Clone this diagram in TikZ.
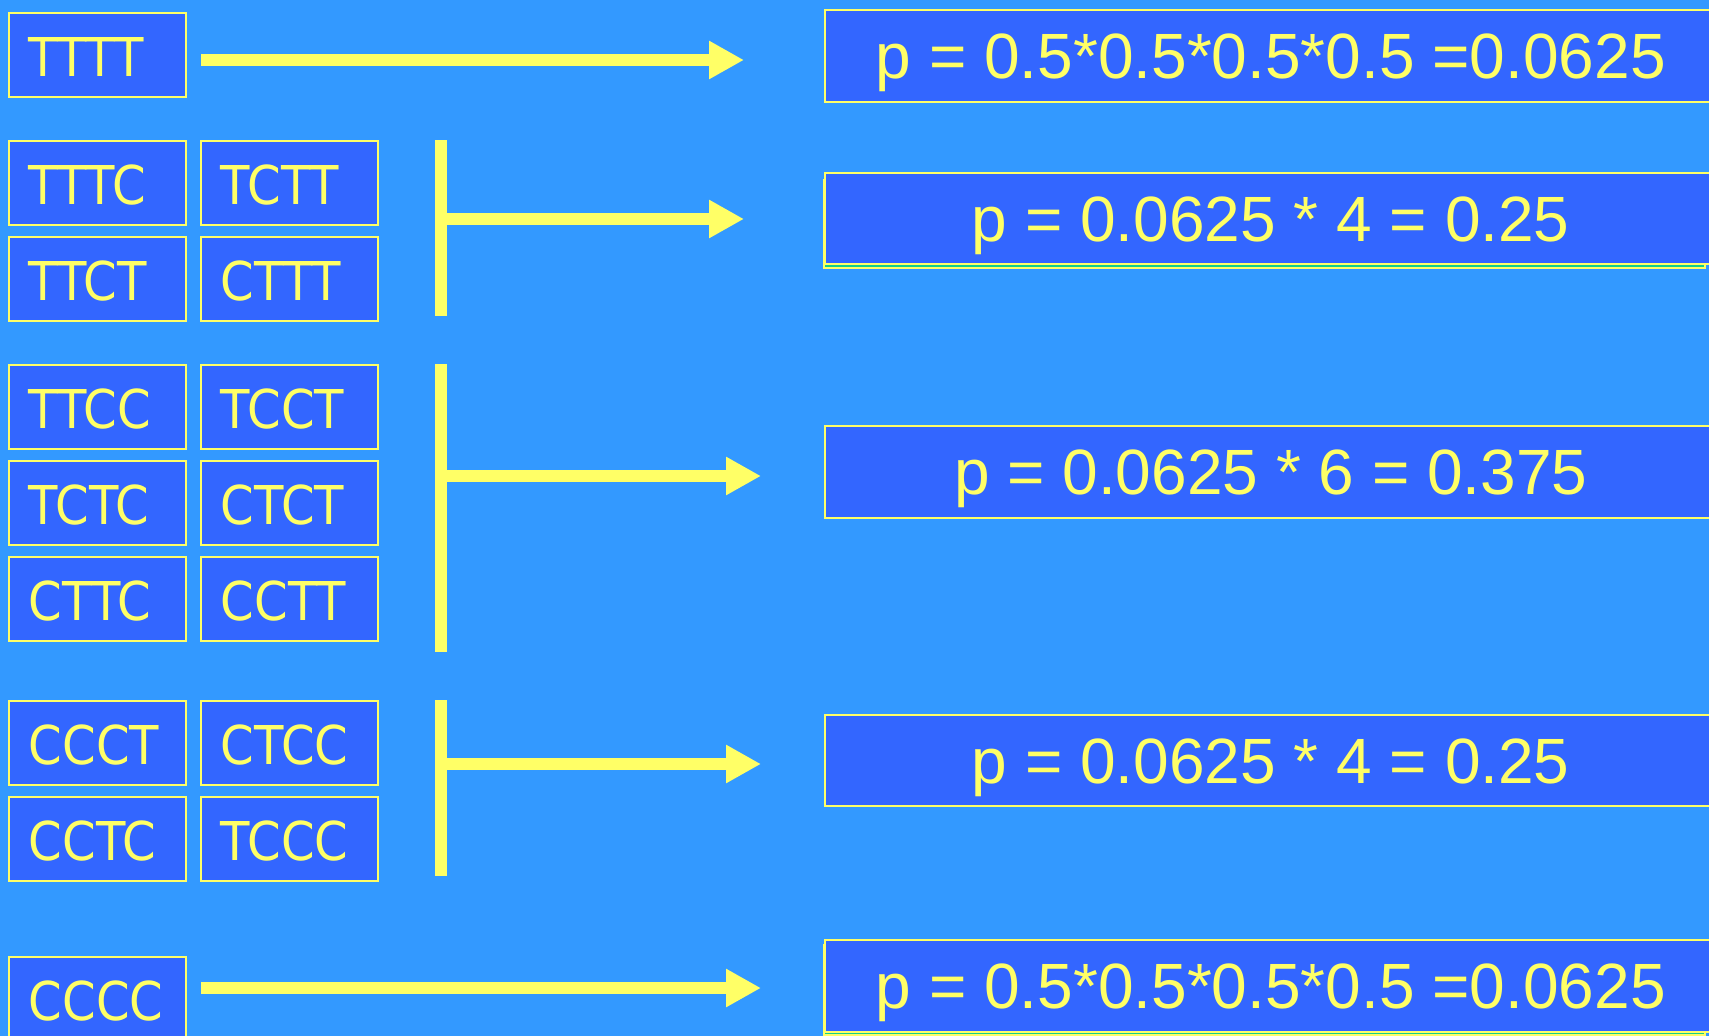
\documentclass[tikz,border=0pt]{standalone}
\usepackage{fontspec}
\setmainfont{Liberation Sans}
\newfontfamily\boxfont[FakeStretch=0.9]{DejaVu Sans}
\usetikzlibrary{arrows.meta}
\definecolor{bg}{RGB}{51,153,255}
\definecolor{boxblue}{RGB}{51,102,255}
\definecolor{ylw}{RGB}{255,255,102}
\definecolor{grn}{RGB}{20,208,136}
\begin{document}
\begin{tikzpicture}[x=1pt,y=-1pt,
  seq/.style={draw=ylw, line width=1.6pt, fill=boxblue, text=ylw, anchor=north west,
    minimum height=84pt, inner xsep=20pt, inner ysep=0pt, text width=137pt, align=left,
    font=\boxfont\fontsize{53.5}{60}\selectfont, text height=44pt, text depth=0pt},
  prob/.style={draw=ylw, line width=1.6pt, fill=boxblue, text=ylw, anchor=north west,
    minimum width=892pt, minimum height=92pt, inner sep=0pt,
    font=\fontsize{64}{72}\selectfont, text height=46pt, text depth=0pt},
  shadowbox/.style={draw=ylw, line width=1.6pt, fill=grn},
  shaft/.style={draw=ylw, line width=12pt},
  arr/.style={shaft, -{Triangle[length=35pt,width=36pt]}},
]
\useasboundingbox (0,0) rectangle (1709,1036);
\clip (0,0) rectangle (1709,1036);
\fill[bg] (0,0) rectangle (1709,1036);

% left sequence boxes
\node[seq] (tttt) at (8,12) {TTTT};
\node[seq] (tttc) at (8,140) {TTTC};
\node[seq] (tctt) at (200,140) {TCTT};
\node[seq] (ttct) at (8,236) {TTCT};
\node[seq] (cttt) at (200,236) {CTTT};
\node[seq] (ttcc) at (8,364) {TTCC};
\node[seq] (tcct) at (200,364) {TCCT};
\node[seq] (tctc) at (8,460) {TCTC};
\node[seq] (ctct) at (200,460) {CTCT};
\node[seq] (cttc) at (8,556) {CTTC};
\node[seq] (cctt) at (200,556) {CCTT};
\node[seq] (ccct) at (8,700) {CCCT};
\node[seq] (ctcc) at (200,700) {CTCC};
\node[seq] (cctc) at (8,796) {CCTC};
\node[seq] (tccc) at (200,796) {TCCC};
\node[seq] (cccc) at (8,956) {CCCC};

% right probability boxes
\draw[shadowbox] (824,180) rectangle (1705,268);
\draw[shadowbox] (824,945) rectangle (1705,1035);
\node[prob] (p1) at (824,9) {p = 0.5*0.5*0.5*0.5 =0.0625};
\node[prob, minimum height=91pt] (p2) at (824,172) {p = 0.0625 * 4 = 0.25};
\node[prob] (p3) at (824,425) {p = 0.0625 * 6 = 0.375};
\node[prob, minimum height=91pt] (p4) at (824,714) {p = 0.0625 * 4 = 0.25};
\node[prob] (p5) at (824,939) {p = 0.5*0.5*0.5*0.5 =0.0625};

% arrows
\coordinate (a1s) at (201,60);  \coordinate (a1e) at (744,60);
\draw[arr] (a1s) -- (a1e);

\coordinate (b2t) at (441,140); \coordinate (b2b) at (441,316);
\coordinate (b2m) at (441,219); \coordinate (a2e) at (744,219);
\draw[shaft] (b2t) -- (b2b);
\draw[arr] (b2m) -- (a2e);

\coordinate (b3t) at (441,364); \coordinate (b3b) at (441,652);
\coordinate (b3m) at (441,476); \coordinate (a3e) at (761,476);
\draw[shaft] (b3t) -- (b3b);
\draw[arr] (b3m) -- (a3e);

\coordinate (b4t) at (441,700); \coordinate (b4b) at (441,876);
\coordinate (b4m) at (441,764); \coordinate (a4e) at (761,764);
\draw[shaft] (b4t) -- (b4b);
\draw[arr] (b4m) -- (a4e);

\coordinate (a5s) at (201,988); \coordinate (a5e) at (761,988);
\draw[arr] (a5s) -- (a5e);
\end{tikzpicture}
\end{document}
